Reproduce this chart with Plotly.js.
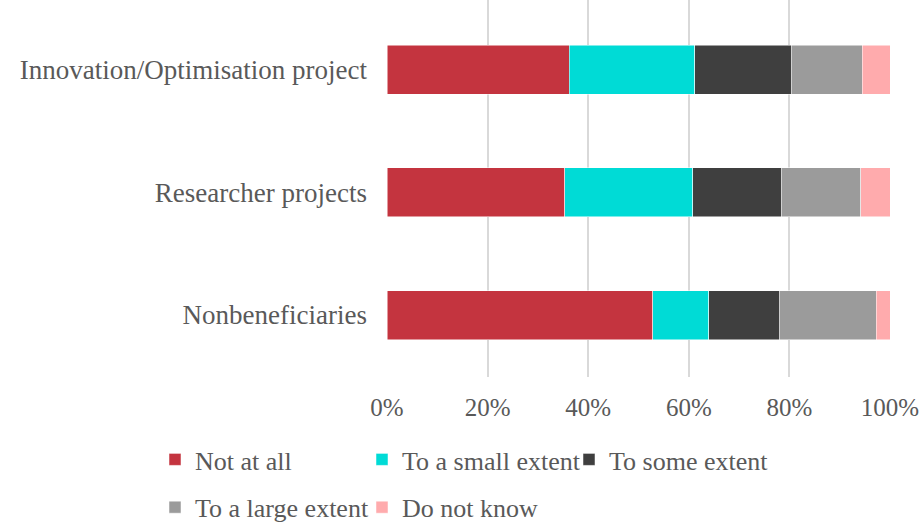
<!DOCTYPE html>
<html>
<head>
<meta charset="utf-8">
<script src="https://cdn.plot.ly/plotly-3.0.1.min.js"></script>
<style>html,body{margin:0;padding:0;background:#fff;}#chart{width:920px;height:524px;}</style>
</head>
<body>
<div id="chart"></div>
<script>
const categories = ["Nonbeneficiaries", "Researcher projects", "Innovation/Optimisation project"];
const notAtAll     = [52.8, 35.3, 36.2];
const smallExtent  = [11.2, 25.5, 25.0];
const someExtent   = [14.0, 17.7, 19.3];
const largeExtent  = [19.3, 15.7, 14.0];
const doNotKnow    = [2.7, 5.8, 5.5];
const seriesNames  = ["Not at all", "To a small extent", "To some extent", "To a large extent", "Do not know"];
const seriesColors = ["#C4343F", "#00DBD6", "#3F3F3F", "#9B9B9B", "#FFABAD"];
const seriesLegends = ["legend", "legend2", "legend3", "legend", "legend2"];
const tickVals = [0, 20, 40, 60, 80, 100];
const tickText = ["0%", "20%", "40%", "60%", "80%", "100%"];

const seriesData = [notAtAll, smallExtent, someExtent, largeExtent, doNotKnow];
const FONT = "Liberation Serif";
const TXT = "#595959";

const traces = seriesData.map((vals, i) => ({
  type: "bar",
  orientation: "h",
  name: seriesNames[i],
  x: vals,
  y: categories,
  width: 0.4,
  legend: seriesLegends[i],
  legendgroup: "g" + i,
  marker: { color: seriesColors[i], line: { color: "#ffffff", width: 0.5 } },
  hoverinfo: "x+y+name"
}));

const legendBase = {
  orientation: "v",
  xref: "container", yref: "container",
  xanchor: "left", yanchor: "top",
  font: { family: FONT, size: 26, color: TXT },
  bgcolor: "rgba(0,0,0,0)",
  itemwidth: 30,
  tracegroupgap: 11,
  traceorder: "grouped"
};

const layout = {
  width: 920, height: 524,
  margin: { l: 387, r: 30, t: 0, b: 147, autoexpand: false },
  paper_bgcolor: "#ffffff",
  plot_bgcolor: "#ffffff",
  barmode: "stack",
  font: { family: FONT, color: TXT },
  xaxis: {
    range: [0, 100],
    tickvals: tickVals,
    ticktext: tickText,
    showgrid: true,
    gridcolor: "#D9D9D9",
    gridwidth: 2,
    zeroline: false,
    showline: false,
    ticks: "",
    ticklabelstandoff: 13,
    tickfont: { family: FONT, size: 25, color: TXT },
    automargin: false,
    fixedrange: true
  },
  yaxis: {
    type: "category",
    categoryorder: "array",
    categoryarray: categories,
    range: [-0.506, 2.571],
    showgrid: false,
    zeroline: false,
    showline: false,
    ticks: "",
    ticklabelstandoff: 19,
    tickfont: { family: FONT, size: 27, color: TXT },
    automargin: false,
    fixedrange: true
  },
  showlegend: true,
  legend: Object.assign({}, legendBase, { x: 155 / 920, y: 1 - 436 / 524 }),
  legend2: Object.assign({}, legendBase, { x: 362 / 920, y: 1 - 436 / 524 }),
  legend3: Object.assign({}, legendBase, { x: 569 / 920, y: 1 - 436 / 524 })
};

Plotly.newPlot("chart", traces, layout, { displayModeBar: false, staticPlot: true });
</script>
</body>
</html>
